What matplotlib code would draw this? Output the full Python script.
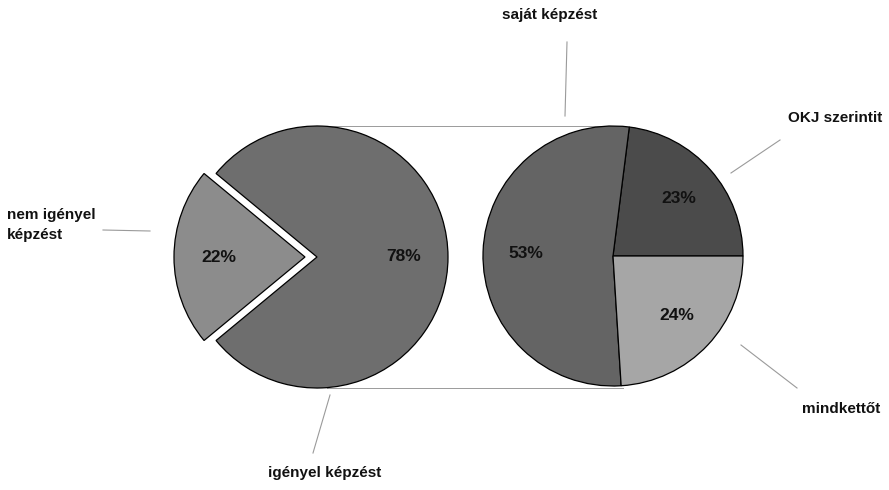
import matplotlib
matplotlib.use("Agg")
import matplotlib.pyplot as plt

plt.rcParams['font.family'] = ['Liberation Sans', 'DejaVu Sans']

# main pie: does the respondent need training
main_labels = ['nem igényel\nképzést', 'igényel képzést']
main_values = [22, 78]
main_colors = ['#8c8c8c', '#6e6e6e']

# breakdown of "igényel képzést"
sub_labels = ['OKJ szerintit', 'saját képzést', 'mindkettőt']
sub_values = [23, 53, 24]
sub_colors = ['#4b4b4b', '#646464', '#a6a6a6']

W, H = 889, 490
fig = plt.figure(figsize=(W / 100, H / 100), dpi=100)
ax = fig.add_axes([0, 0, 1, 1])

R = 131
c_main = (317, H - 257)
c_sub = (613, H - 256)

wp = dict(edgecolor='black', linewidth=0.9)
tp = dict(fontsize=12.5, fontweight='bold', color='#111111')

main_start = 180 - main_values[0] * 3.6 / 2
# explode is in data units here (pixels)
ax.pie(main_values, explode=[12, 0], colors=main_colors, startangle=main_start,
       radius=R, center=c_main, autopct='%.0f%%', pctdistance=0.66,
       wedgeprops=wp, textprops=tp, frame=False)
ax.pie(sub_values, colors=sub_colors, startangle=0, radius=R - 1, center=c_sub,
       autopct='%.0f%%', pctdistance=0.67, wedgeprops=wp, textprops=tp, frame=False)

# connector lines between the two pies
for yy in (c_main[1] + R, c_main[1] - R):
    ax.plot([c_main[0] + 10, c_sub[0] + 10], [yy, yy], color='#9a9a9a', lw=0.7, zorder=0)

# outside labels with leader lines
lc = '#9a9a9a'
lab = dict(fontsize=11, fontweight='bold', color='#111111')
ax.plot([103, 150], [H - 230, H - 231], color=lc, lw=0.8)
ax.text(7, H - 225, main_labels[0], ha='left', va='center', linespacing=1.5, **lab)
ax.plot([330, 313], [H - 395, H - 453], color=lc, lw=0.8)
ax.text(325, H - 473, main_labels[1], ha='center', va='center', **lab)

ax.plot([567, 565], [H - 42, H - 116], color=lc, lw=0.8)
ax.text(550, H - 15, sub_labels[1], ha='center', va='center', **lab)
ax.plot([780, 731], [H - 140, H - 173], color=lc, lw=0.8)
ax.text(835, H - 118, sub_labels[0], ha='center', va='center', **lab)
ax.plot([797, 741], [H - 388, H - 345], color=lc, lw=0.8)
ax.text(841, H - 409, sub_labels[2], ha='center', va='center', **lab)

ax.set_xlim(0, W)
ax.set_ylim(0, H)
ax.set_aspect('auto')
ax.axis('off')

fig.savefig('out.png', dpi=100, facecolor='white')
